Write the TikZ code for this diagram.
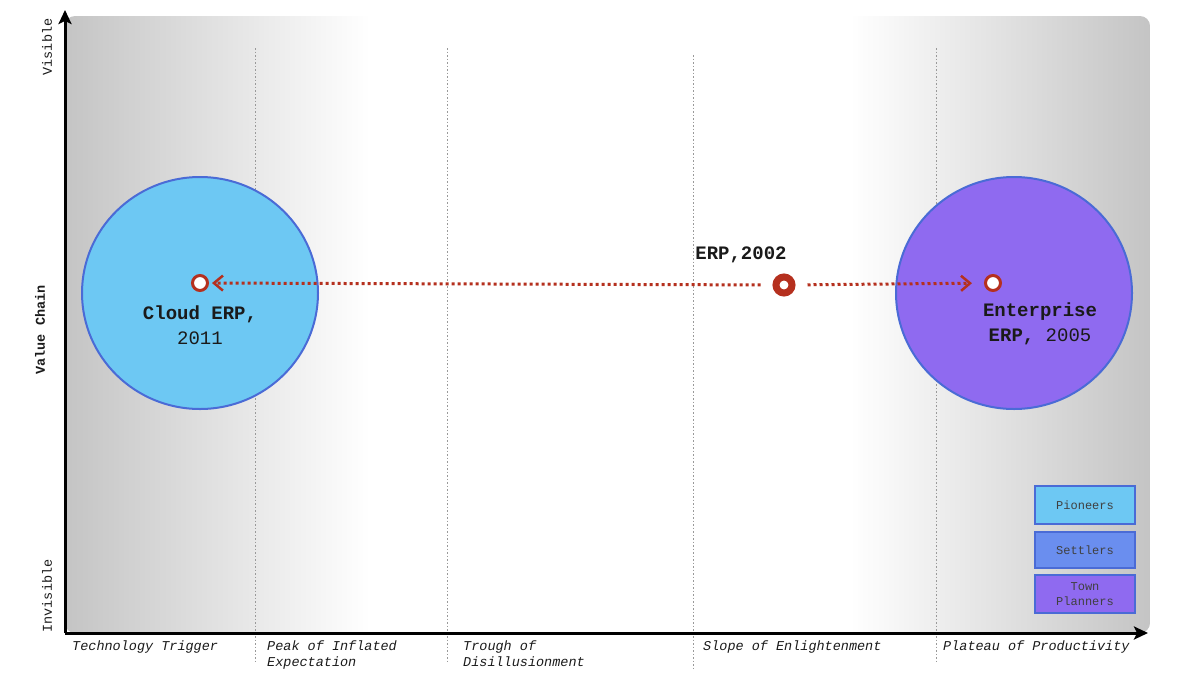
\documentclass[tikz,border=0pt]{standalone}
\usepackage{fontspec}
\setmonofont{Liberation Mono}
\usetikzlibrary{arrows.meta,shapes.geometric}
\definecolor{bggray}{HTML}{C4C4C4}
\definecolor{pioneer}{HTML}{6DC8F3}
\definecolor{settler}{HTML}{6A8EEF}
\definecolor{planner}{HTML}{8F6AF0}
\definecolor{edge}{HTML}{4A6BD6}
\definecolor{ervred}{HTML}{B5301E}
\definecolor{txt}{HTML}{1A1A1A}
\tikzset{
  axisline/.style={line width=3pt, -{Stealth[length=14pt,width=13pt,inset=3pt]}},
  phaseline/.style={draw=gray!80, line width=1pt, dash pattern=on 1.5pt off 2pt},
  phaselabel/.style={font=\fontsize{13.5}{16}\selectfont\ttfamily\itshape, align=left, anchor=north west, inner sep=0pt, text=txt},
  sidelabel/.style={font=\fontsize{13.5}{16}\selectfont\ttfamily, rotate=90, inner sep=0pt, text=txt},
  blob/.style={ellipse, draw=edge, line width=2pt, minimum width=236pt, minimum height=232pt, inner sep=0pt},
  pointdot/.style={circle, draw=ervred, fill=white, line width=3pt, minimum size=15pt, inner sep=0pt},
  bigdot/.style={circle, draw=ervred, fill=white, line width=7pt, minimum size=16pt, inner sep=0pt},
  movearrow/.style={draw=ervred, line width=3pt, dash pattern=on 3pt off 3pt, -{Straight Barb[length=9pt,width=15pt,line width=2.5pt]}},
  bubbletext/.style={font=\fontsize{19}{25}\selectfont\ttfamily, align=center, text=txt},
  legendbox/.style={draw=edge, line width=2pt, minimum width=100pt, inner sep=0pt, align=center, font=\fontsize{12}{15}\selectfont\ttfamily, text=black!75}
}
\begin{document}
\begin{tikzpicture}[x=1pt,y=-1pt]
\useasboundingbox (0,0) rectangle (1200,675);
% background
\begin{scope}
  \clip[rounded corners=10pt] (65,16) rectangle (1150,633);
  \fill[white] (65,16) rectangle (1150,633);
  \shade[left color=bggray, right color=white] (64,16) rectangle (370,633);
  \shade[left color=white, right color=bggray] (850,16) rectangle (1151,633);
\end{scope}
% phase lines
\coordinate (p1t) at (255,48);  \coordinate (p1b) at (255,663);
\coordinate (p2t) at (447,48);  \coordinate (p2b) at (447,663);
\coordinate (p3t) at (693,55);  \coordinate (p3b) at (693,668);
\coordinate (p4t) at (936,48);  \coordinate (p4b) at (936,662);
\draw[phaseline] (p1t) -- (p1b);
\draw[phaseline] (p2t) -- (p2b);
\draw[phaseline] (p3t) -- (p3b);
\draw[phaseline] (p4t) -- (p4b);
% axes
\coordinate (O) at (65,633);
\coordinate (ytop) at (65,10);
\coordinate (xend) at (1148,633);
\draw[axisline] (O) -- (ytop);
\draw[axisline] (O) -- (xend);
% axis labels
\node[sidelabel] (visible) at (47,47) {Visible};
\node[sidelabel] (invisible) at (47,596) {Invisible};
\node[sidelabel, font=\fontsize{13.5}{16}\selectfont\ttfamily\bfseries] (vchain) at (40,330) {Value Chain};
\node[phaselabel] (ph1) at (72,641) {Technology Trigger};
\node[phaselabel] (ph2) at (267,641) {Peak of Inflated\\Expectation};
\node[phaselabel] (ph3) at (463,641) {Trough of\\Disillusionment};
\node[phaselabel] (ph4) at (703,641) {Slope of Enlightenment};
\node[phaselabel] (ph5) at (943,641) {Plateau of Productivity};
% bubbles
\node[blob, fill=pioneer] (cloud) at (200,293) {};
\node[blob, fill=planner] (enterprise) at (1014,293) {};
% points
\node[pointdot] (cdot) at (200,283) {};
\node[pointdot] (edot2) at (993,283) {};
\node[bigdot] (erp) at (784,285) {};
% movement arrows
\draw[movearrow, shorten <=12pt, shorten >=3pt] (erp) -- (cdot);
\draw[movearrow, shorten <=12pt, shorten >=12pt] (erp) -- (edot2);
% labels
\node[bubbletext] (cloudlbl) at (200,325) {\textbf{Cloud ERP,}\\2011};
\node[bubbletext] (entlbl) at (1040,324) {\textbf{Enterprise}\\\textbf{ERP,} 2005};
\node[bubbletext, font=\fontsize{19}{25}\selectfont\ttfamily\bfseries] (erplbl) at (741,255) {ERP,2002};
% legend
\node[legendbox, fill=pioneer, minimum height=38pt] (leg1) at (1085,505) {Pioneers};
\node[legendbox, fill=settler, minimum height=36pt] (leg2) at (1085,550) {Settlers};
\node[legendbox, fill=planner, minimum height=38pt] (leg3) at (1085,594) {Town\\Planners};
\end{tikzpicture}
\end{document}
